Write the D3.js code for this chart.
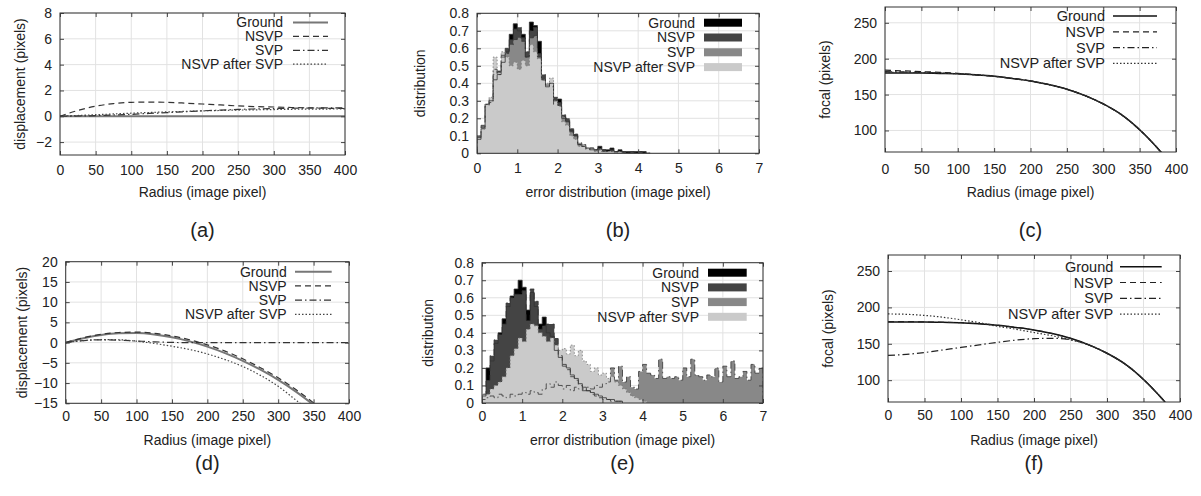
<!DOCTYPE html>
<html>
<head>
<meta charset="utf-8">
<script src="https://cdn.jsdelivr.net/npm/d3@7"></script>
<style>
  body { margin: 0; background: #fff; }
  text { font-family: "Liberation Sans", Arial, sans-serif; fill: #222; }
</style>
</head>
<body>
<div id="chart"></div>
<script>
// categories
const SERIES = ["Ground", "NSVP", "SVP", "NSVP after SVP"]
const RADIUS = [0, 25, 50, 75, 100, 125, 150, 175, 200, 225, 250, 275, 300, 325, 350, 375, 400]
const BIN = 0.1

// (a) displacement, small distortion
const groundA = [0, 0, 0, 0, 0, 0, 0, 0, 0, 0, 0, 0, 0, 0, 0, 0, 0]
const nsvpA   = [0, 0.45, 0.78, 0.98, 1.08, 1.1, 1.08, 1.02, 0.95, 0.88, 0.8, 0.75, 0.72, 0.68, 0.65, 0.62, 0.6]
const svpA    = [0, 0.02, 0.05, 0.1, 0.15, 0.22, 0.28, 0.35, 0.42, 0.48, 0.53, 0.57, 0.6, 0.62, 0.64, 0.65, 0.66]
const afterA  = [0, 0.06, 0.12, 0.18, 0.24, 0.29, 0.34, 0.38, 0.42, 0.45, 0.48, 0.5, 0.52, 0.54, 0.55, 0.56, 0.57]

// (d) displacement, large distortion
const groundD = [0, 1.1, 1.9, 2.3, 2.35, 2.0, 1.3, 0.3, -1.0, -2.6, -4.5, -6.7, -9.2, -12.1, -15.4, -19, -23]
const nsvpD   = [0, 1.2, 2.05, 2.5, 2.6, 2.3, 1.65, 0.7, -0.55, -2.1, -4.0, -6.2, -8.7, -11.6, -14.9, -18.5, -22.5]
const svpD    = [0, 0.5, 0.7, 0.6, 0.4, 0.2, 0.05, 0, 0, 0, 0, 0, 0, 0, 0, 0, 0]
const afterD  = [0, 0.5, 0.75, 0.7, 0.35, -0.2, -0.9, -1.7, -2.8, -4.2, -5.9, -8.1, -10.8, -14.2, -17.8, -21.5, -25.5]

// (c) focal, small distortion
const groundC = [180, 180, 180, 179.5, 179, 177.5, 175.5, 172.5, 169, 164, 157.5, 148.5, 137, 122, 101, 75, 45]
const nsvpC   = [184, 183, 182, 181, 179.5, 177.5, 175.5, 172.5, 169, 164, 157.5, 148.5, 137, 122, 101, 75, 45]
const svpC    = [182, 181.5, 181, 180, 179, 177.5, 175.5, 172.5, 169, 164, 157.5, 148.5, 137, 122, 101, 75, 45]
const afterC  = [181, 181, 180.5, 180, 179, 177.5, 175.5, 172.5, 169, 164, 157.5, 148.5, 137, 122, 101, 75, 45]

// (f) focal, large distortion
const groundF = [180, 180, 180, 179.5, 179, 177.5, 175.5, 172.5, 169, 164, 157.5, 148.5, 137, 122, 101, 75, 45]
const nsvpF   = [180.5, 180.5, 180, 179.5, 179, 177.5, 175.5, 172.5, 169, 164, 157.5, 148.5, 137, 122, 101, 75, 45]
const svpF    = [134, 135.5, 138, 141.5, 145, 148.5, 152, 155, 157, 157.5, 155.5, 148.5, 137, 122, 101, 75, 45]
const afterF  = [191, 190.5, 189, 186.5, 183, 179, 174, 170, 165.5, 161, 155.5, 148.5, 137, 122, 101, 75, 45]

// (b) error histograms, small distortion (bins of 0.1 from 0)
const groundB = [0.08, 0.14, 0.28, 0.30, 0.42, 0.45, 0.52, 0.58, 0.68, 0.74, 0.70, 0.68, 0.55, 0.75, 0.73, 0.64, 0.42, 0.38, 0.40, 0.30, 0.31, 0.20, 0.18, 0.13, 0.10, 0.05, 0.04, 0.03, 0.03, 0.02, 0.04, 0.02, 0.02, 0.03, 0.01, 0.02, 0.01, 0.01, 0.01, 0.01, 0.01, 0.01, 0]
const nsvpB   = [0.10, 0.15, 0.27, 0.31, 0.45, 0.47, 0.55, 0.60, 0.65, 0.71, 0.72, 0.66, 0.58, 0.70, 0.72, 0.57, 0.45, 0.39, 0.38, 0.32, 0.29, 0.22, 0.20, 0.14, 0.11, 0.05, 0.05, 0.02, 0.03, 0.02, 0.03, 0.02, 0.01, 0.02, 0.01, 0.01, 0.01, 0, 0.01, 0, 0.01, 0, 0]
const svpB    = [0.09, 0.16, 0.28, 0.29, 0.48, 0.45, 0.56, 0.57, 0.62, 0.65, 0.66, 0.64, 0.55, 0.66, 0.67, 0.55, 0.42, 0.40, 0.40, 0.28, 0.27, 0.21, 0.18, 0.12, 0.10, 0.06, 0.04, 0.03, 0.02, 0.02, 0.02, 0.01, 0.01, 0.01, 0.01, 0.01, 0, 0, 0, 0, 0, 0, 0]
const afterB  = [0.10, 0.14, 0.28, 0.32, 0.55, 0.46, 0.58, 0.55, 0.50, 0.52, 0.48, 0.53, 0.50, 0.62, 0.58, 0.54, 0.42, 0.40, 0.43, 0.30, 0.27, 0.18, 0.16, 0.10, 0.08, 0.04, 0.05, 0.03, 0.03, 0.01, 0.02, 0.01, 0.01, 0.01, 0, 0.01, 0, 0, 0, 0, 0, 0, 0]

// (e) error histograms, large distortion
const groundE = [0.04, 0.20, 0.24, 0.34, 0.40, 0.48, 0.55, 0.61, 0.65, 0.70, 0.66, 0.53, 0.63, 0.55, 0.45, 0.49, 0.40, 0.38, 0.30, 0.26,
                 0.22, 0.20, 0.16, 0.14, 0.11, 0.09, 0.07, 0.06, 0.05, 0.04, 0.03, 0.02, 0.02, 0.01, 0.01]
const nsvpE   = [0.05, 0.13, 0.27, 0.36, 0.39, 0.45, 0.57, 0.60, 0.62, 0.62, 0.64, 0.47, 0.65, 0.58, 0.42, 0.44, 0.45, 0.45, 0.37, 0.27,
                 0.21, 0.19, 0.15, 0.13, 0.10, 0.08, 0.07, 0.05, 0.04, 0.03, 0.02, 0.02, 0.01, 0.01, 0.01]
const svpE    = [0.02, 0.03, 0.04, 0.03, 0.05, 0.04, 0.03, 0.05, 0.04, 0.05, 0.06, 0.05, 0.07, 0.06, 0.05, 0.08, 0.11, 0.09, 0.12, 0.10,
                 0.08, 0.10, 0.07, 0.09, 0.08, 0.07, 0.09, 0.08, 0.10, 0.09, 0.11, 0.12, 0.20, 0.13, 0.21, 0.12, 0.15, 0.09, 0.08, 0.18,
                 0.22, 0.17, 0.16, 0.14, 0.25, 0.14, 0.15, 0.14, 0.15, 0.13, 0.20, 0.15, 0.25, 0.16, 0.15, 0.13, 0.16, 0.15, 0.20, 0.12,
                 0.21, 0.15, 0.24, 0.14, 0.15, 0.18, 0.13, 0.22, 0.17, 0.20]
const afterE  = [0.05, 0.05, 0.08, 0.10, 0.12, 0.15, 0.20, 0.27, 0.31, 0.37, 0.35, 0.42, 0.45, 0.44, 0.40, 0.38, 0.35, 0.37, 0.33, 0.30,
                 0.31, 0.28, 0.33, 0.27, 0.30, 0.24, 0.22, 0.18, 0.20, 0.16, 0.17, 0.14, 0.15, 0.12, 0.10, 0.08, 0.06, 0.04, 0.03, 0.02, 0.01]

// ticks
const X_RADIUS = [0, 50, 100, 150, 200, 250, 300, 350, 400]
const X_ERROR = [0, 1, 2, 3, 4, 5, 6, 7]
const Y_DISP_A = [-2, 0, 2, 4, 6, 8]
const Y_DISP_D = [-15, -10, -5, 0, 5, 10, 15, 20]
const Y_DIST = [0, 0.1, 0.2, 0.3, 0.4, 0.5, 0.6, 0.7, 0.8]
const Y_FOCAL = [100, 150, 200, 250]

const DASH = ["none", "6,4", "7,3,1.5,3", "1.5,2"]
const HIST_FILL = ["#000", "#444", "#888", "#cacaca"]

const svg = d3.select("#chart").append("svg")
  .attr("width", 1201)
  .attr("height", 496)

function panel(p) {
  const x = d3.scaleLinear().domain(p.xd).range([p.l, p.r])
  const y = d3.scaleLinear().domain(p.yd).range([p.b, p.t])
  const g = svg.append("g")

  // grid
  g.selectAll(".gx").data(p.xt).enter().append("line")
    .attr("x1", d => x(d)).attr("x2", d => x(d))
    .attr("y1", p.t).attr("y2", p.b)
    .attr("stroke", "#e2e2e2")
  g.selectAll(".gy").data(p.yt).enter().append("line")
    .attr("x1", p.l).attr("x2", p.r)
    .attr("y1", d => y(d)).attr("y2", d => y(d))
    .attr("stroke", "#e2e2e2")

  const clipId = "clip-" + p.id
  svg.append("clipPath").attr("id", clipId).append("rect")
    .attr("x", p.l).attr("y", p.t)
    .attr("width", p.r - p.l).attr("height", p.b - p.t)
  const body = g.append("g").attr("clip-path", `url(#${clipId})`)

  if (p.lines) {
    const line = d3.line()
      .x((d, i) => x(RADIUS[i]))
      .y(d => y(d))
      .curve(d3.curveMonotoneX)
    p.lines.forEach((s, i) => {
      body.append("path")
        .attr("d", line(s))
        .attr("fill", "none")
        .attr("stroke", p.styles[i].c)
        .attr("stroke-width", p.styles[i].w)
        .attr("stroke-dasharray", DASH[i])
    })
  }

  if (p.hists) {
    const pts = s => s.map((v, i) => [i * BIN, v]).concat([[s.length * BIN, s[s.length - 1]]])
    const area = d3.area()
      .x(d => x(d[0])).y0(y(0)).y1(d => y(d[1]))
      .curve(d3.curveStepAfter)
    const outline = d3.line()
      .x(d => x(d[0])).y(d => y(d[1]))
      .curve(d3.curveStepAfter)
    p.hists.forEach((s, i) => {
      body.append("path").attr("d", area(pts(s))).attr("fill", HIST_FILL[i])
    })
    p.hists.forEach((s, i) => {
      const o = [[0, 0]].concat(pts(s), [[s.length * BIN, 0]])
      body.append("path")
        .attr("d", outline(o))
        .attr("fill", "none")
        .attr("stroke", i === 3 ? "#777" : "#333")
        .attr("stroke-width", 0.8)
        .attr("stroke-dasharray", DASH[i])
    })
  }

  // axes with inward ticks on all four sides
  const fs = 14
  const xb = g.append("g").attr("transform", `translate(0,${p.b})`)
    .call(d3.axisBottom(x).tickValues(p.xt).tickSize(-4).tickSizeOuter(0).tickPadding(p.xpad).tickFormat(d3.format("d")))
  const xtp = g.append("g").attr("transform", `translate(0,${p.t})`)
    .call(d3.axisTop(x).tickValues(p.xt).tickSize(-4).tickSizeOuter(0).tickFormat(""))
  const yl = g.append("g").attr("transform", `translate(${p.l},0)`)
    .call(d3.axisLeft(y).tickValues(p.yt).tickSize(-4).tickSizeOuter(0).tickPadding(8).tickFormat(p.yf || d3.format("d")))
  const yr = g.append("g").attr("transform", `translate(${p.r},0)`)
    .call(d3.axisRight(y).tickValues(p.yt).tickSize(-4).tickSizeOuter(0).tickFormat(""))
  ;[xb, xtp, yl, yr].forEach(a => {
    a.select(".domain").remove()
    a.attr("font-size", fs).attr("font-family", null).attr("color", "#222")
    a.selectAll("line").attr("stroke", "#444")
  })

  g.append("rect")
    .attr("x", p.l).attr("y", p.t)
    .attr("width", p.r - p.l).attr("height", p.b - p.t)
    .attr("fill", "none").attr("stroke", "#333")

  // axis titles
  const cx = (p.l + p.r) / 2
  g.append("text")
    .attr("x", cx).attr("y", p.xly)
    .attr("text-anchor", "middle").attr("font-size", 14)
    .text(p.xlab)
  g.append("text")
    .attr("transform", `translate(${p.ylx},${(p.t + p.b) / 2}) rotate(-90)`)
    .attr("text-anchor", "middle").attr("dy", "0.35em").attr("font-size", 14)
    .text(p.ylab)
  g.append("text")
    .attr("x", cx).attr("y", p.capy)
    .attr("text-anchor", "middle").attr("font-size", 20)
    .text(p.cap)

  // legend
  const L = p.leg
  SERIES.forEach((name, i) => {
    const ly = L.y0 + i * L.dy
    g.append("text")
      .attr("x", L.tx).attr("y", ly).attr("dy", "0.35em")
      .attr("text-anchor", "end").attr("font-size", L.fs)
      .text(name)
    if (p.lines) {
      g.append("line")
        .attr("x1", L.x0).attr("x2", L.x1).attr("y1", ly).attr("y2", ly)
        .attr("stroke", p.styles[i].c).attr("stroke-width", p.styles[i].w)
        .attr("stroke-dasharray", DASH[i])
    } else {
      g.append("rect")
        .attr("x", L.x0).attr("y", ly - 4)
        .attr("width", L.x1 - L.x0).attr("height", 8)
        .attr("fill", HIST_FILL[i])
    }
  })
}

const dispStyles = [{ c: "#777", w: 2 }, { c: "#333", w: 1.2 }, { c: "#333", w: 1.2 }, { c: "#444", w: 1.2 }]
const focalStyles = [{ c: "#111", w: 1.5 }, { c: "#222", w: 1.2 }, { c: "#222", w: 1.2 }, { c: "#333", w: 1.2 }]
const fmtDist = d => d === 0 ? "0" : d3.format(".1f")(d)

panel({ id: "a", l: 60, r: 345, t: 13, b: 155, xd: [0, 400], yd: [-3, 8], xt: X_RADIUS, yt: Y_DISP_A, xpad: 10,
  xlab: "Radius (image pixel)", xly: 196.5, ylab: "displacement (pixels)", ylx: 20, cap: "(a)", capy: 237,
  lines: [groundA, nsvpA, svpA, afterA], styles: dispStyles,
  leg: { tx: 283, x0: 293, x1: 328, y0: 22.5, dy: 13.9, fs: 14 } })

panel({ id: "b", l: 477, r: 759, t: 13.3, b: 153.3, xd: [0, 7], yd: [0, 0.8], xt: X_ERROR, yt: Y_DIST, yf: fmtDist, xpad: 10,
  xlab: "error distribution (image pixel)", xly: 196.5, ylab: "distribution", ylx: 420, cap: "(b)", capy: 237,
  hists: [groundB, nsvpB, svpB, afterB],
  leg: { tx: 695, x0: 704, x1: 742, y0: 22.7, dy: 14.8, fs: 14 } })

panel({ id: "c", l: 885, r: 1176, t: 7, b: 152, xd: [0, 400], yd: [70, 272], xt: X_RADIUS, yt: Y_FOCAL, xpad: 12,
  xlab: "Radius (image pixel)", xly: 196.5, ylab: "focal (pixels)", ylx: 825, cap: "(c)", capy: 237,
  lines: [groundC, nsvpC, svpC, afterC], styles: focalStyles,
  leg: { tx: 1105, x0: 1113, x1: 1157, y0: 16, dy: 15.8, fs: 14.5 } })

panel({ id: "d", l: 65.7, r: 349, t: 261.7, b: 403.3, xd: [0, 400], yd: [-15, 20], xt: X_RADIUS, yt: Y_DISP_D, xpad: 8,
  xlab: "Radius (image pixel)", xly: 445, ylab: "displacement (pixels)", ylx: 22, cap: "(d)", capy: 470,
  lines: [groundD, nsvpD, svpD, afterD], styles: dispStyles,
  leg: { tx: 286.7, x0: 295, x1: 331.7, y0: 271.7, dy: 14.2, fs: 14 } })

panel({ id: "e", l: 482, r: 763, t: 262.7, b: 403, xd: [0, 7], yd: [0, 0.8], xt: X_ERROR, yt: Y_DIST, yf: fmtDist, xpad: 8,
  xlab: "error distribution (image pixel)", xly: 445, ylab: "distribution", ylx: 428, cap: "(e)", capy: 470,
  hists: [groundE, nsvpE, svpE, afterE],
  leg: { tx: 699, x0: 708, x1: 746.7, y0: 272.7, dy: 14.7, fs: 14 } })

panel({ id: "f", l: 888, r: 1180, t: 255, b: 402, xd: [0, 400], yd: [70, 272], xt: X_RADIUS, yt: Y_FOCAL, xpad: 8,
  xlab: "Radius (image pixel)", xly: 445, ylab: "focal (pixels)", ylx: 828, cap: "(f)", capy: 470,
  lines: [groundF, nsvpF, svpF, afterF], styles: focalStyles,
  leg: { tx: 1113.3, x0: 1120, x1: 1161.7, y0: 266.7, dy: 15.8, fs: 14.5 } })
</script>
</body>
</html>
